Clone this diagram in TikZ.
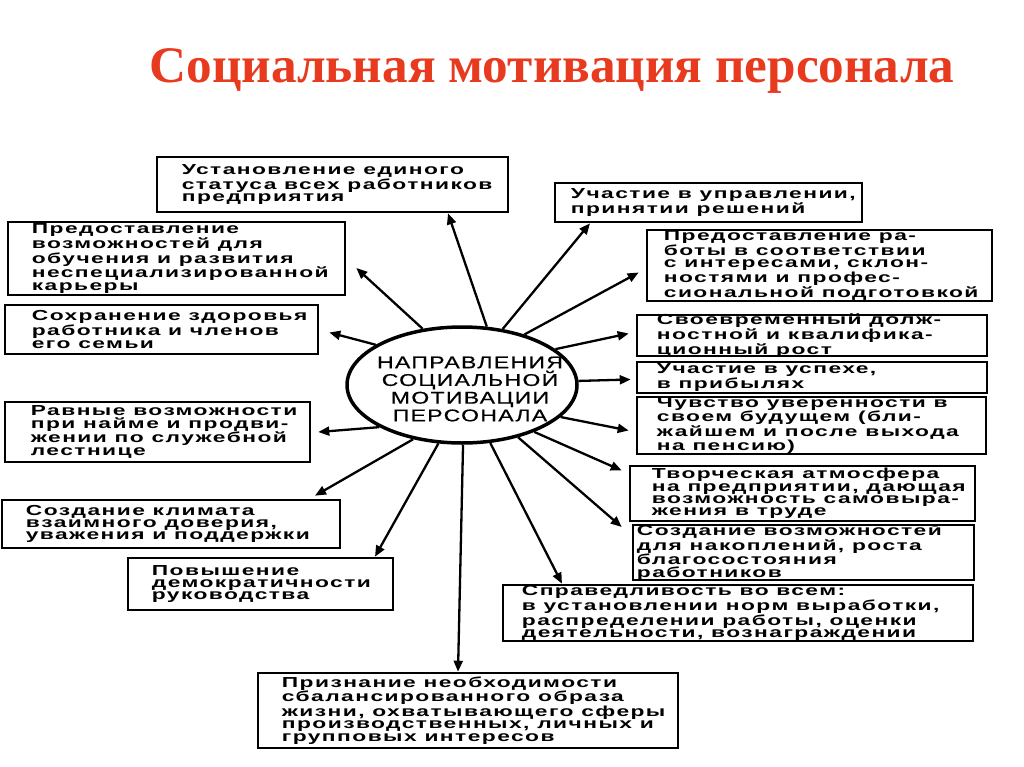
\documentclass[tikz,border=0pt]{standalone}
\usepackage{fontspec}
\usetikzlibrary{shapes.geometric,arrows.meta}
\setmainfont{Liberation Sans}
\newfontfamily\titlefont{Liberation Serif}
\newfontfamily\boxfont[FakeStretch=1.57,LetterSpace=10]{Liberation Sans}
\newfontfamily\ellfont[FakeStretch=1.35,LetterSpace=8,FakeBold=0.6]{Liberation Sans}
\definecolor{titlered}{RGB}{232,58,30}
\newcommand\boxat[7]{%
  \node[box, minimum width={#4pt-#2pt}, minimum height={#5pt-#3pt}] (#1) at ({(#2+#4)/2},{(#3+#5)/2}) {};
  \node[txt] (#1t) at ([xshift=#6pt]#1.west) {#7};}
\begin{document}
\begin{tikzpicture}[x=1pt,y=-1pt,
  box/.style={draw, line width=2.6pt, inner sep=0pt},
  txt/.style={anchor=west, align=left, inner sep=0pt, font=\boxfont\bfseries\fontsize{14.5}{12.4}\selectfont},
  arr/.style={line width=2.3pt, -{Triangle[length=11pt,width=9pt]}},
]
\path[use as bounding box, fill=white] (0,0) rectangle (1024,767);
\node[anchor=base, inner sep=0pt] (title) at (552,83) {\resizebox{805pt}{!}{\titlefont\bfseries\fontsize{56}{56}\selectfont\color{titlered}Социальная мотивация персонала}};

\boxat{b1}{157}{157}{508}{212}{26}{Установление единого\\статуса всех работников\\предприятия}
\boxat{b2}{8}{222}{345}{295}{25}{Предоставление\\возможностей для\\обучения и развития\\неспециализированной\\карьеры}
\boxat{b3}{5}{305}{318}{354}{28}{Сохранение здоровья\\работника и членов\\его семьи}
\boxat{b4}{555}{183}{862}{222}{17}{Участие в управлении,\\принятии решений}
\boxat{b5}{647}{230}{992}{301}{18}{Предоставление ра-\\боты в соответствии\\с интересами, склон-\\ностями и профес-\\сиональной подготовкой}
\boxat{b6}{637}{315}{987}{356}{21}{Своевременный долж-\\ностной и квалифика-\\ционный рост}
\boxat{b7}{637}{362}{987}{393}{21}{Участие в успехе,\\в прибылях}
\boxat{b8}{637}{397}{986}{454}{21}{Чувство уверенности в\\своем будущем (бли-\\жайшем и после выхода\\на пенсию)}
\boxat{b9}{630}{466}{975}{521}{23}{Творческая атмосфера\\на предприятии, дающая\\возможность самовыра-\\жения в труде}
\boxat{b10}{633}{525}{974}{580}{5}{Создание возможностей\\для накоплений, роста\\благосостояния\\работников}
\boxat{b11}{503}{585}{973}{641}{20}{Справедливость во всем:\\в установлении норм выработки,\\распределении работы, оценки\\деятельности, вознаграждении}
\boxat{b12}{258}{673}{678}{748}{25}{Признание необходимости\\сбалансированного образа\\жизни, охватывающего сферы\\производственных, личных и\\групповых интересов}
\boxat{b13}{5}{402}{310}{462}{27}{Равные возможности\\при найме и продви-\\жении по служебной\\лестнице}
\boxat{b14}{2}{500}{340}{548}{25}{Создание климата\\взаимного доверия,\\уважения и поддержки}
\boxat{b15}{128}{558}{393}{610}{25}{Повышение\\демократичности\\руководства}

\node[draw, ellipse, line width=3.5pt, minimum width=230pt, minimum height=116pt, inner sep=0pt] (e) at (462,385) {};
\node[align=center, inner sep=0pt, font=\ellfont\fontsize{17}{17.7}\selectfont] (et) at (470,389) {НАПРАВЛЕНИЯ\\СОЦИАЛЬНОЙ\\МОТИВАЦИИ\\ПЕРСОНАЛА};

\draw[arr] (e.67) -- ([xshift=115.5pt]b1.south);
\draw[arr] (e.125) -- ([xshift=10pt,yshift=-9.5pt]b2.east);
\draw[arr] (e.155) -- ([xshift=10pt,yshift=-3pt]b3.east);
\draw[arr] (e.54) -- ([xshift=-118.5pt]b4.south);
\draw[arr] (e.39) -- ([xshift=-7pt,yshift=-7pt]b5.west);
\draw[arr] (e.21) -- ([xshift=-7pt,yshift=2pt]b6.west);
\draw[arr] (e.2) -- ([xshift=-5pt,yshift=-2pt]b7.west);
\draw[arr] (e.-18) -- ([xshift=-7pt,yshift=-5pt]b8.west);
\draw[arr] (e.-33) -- ([xshift=-7pt,yshift=23pt]b9.west);
\draw[arr] (e.-43) -- ([xshift=-10pt,yshift=25.5pt]b10.west);
\draw[arr] (e.-64) -- ([xshift=-176pt]b11.north);
\draw[arr] (e.-89) -- ([xshift=-10pt]b12.north);
\draw[arr] (e.-112) -- ([xshift=114.5pt]b15.north);
\draw[arr] (e.-132) -- ([xshift=144pt,yshift=3pt]b14.north);
\draw[arr] (e.-153) -- ([xshift=7pt]b13.east);
\end{tikzpicture}
\end{document}
